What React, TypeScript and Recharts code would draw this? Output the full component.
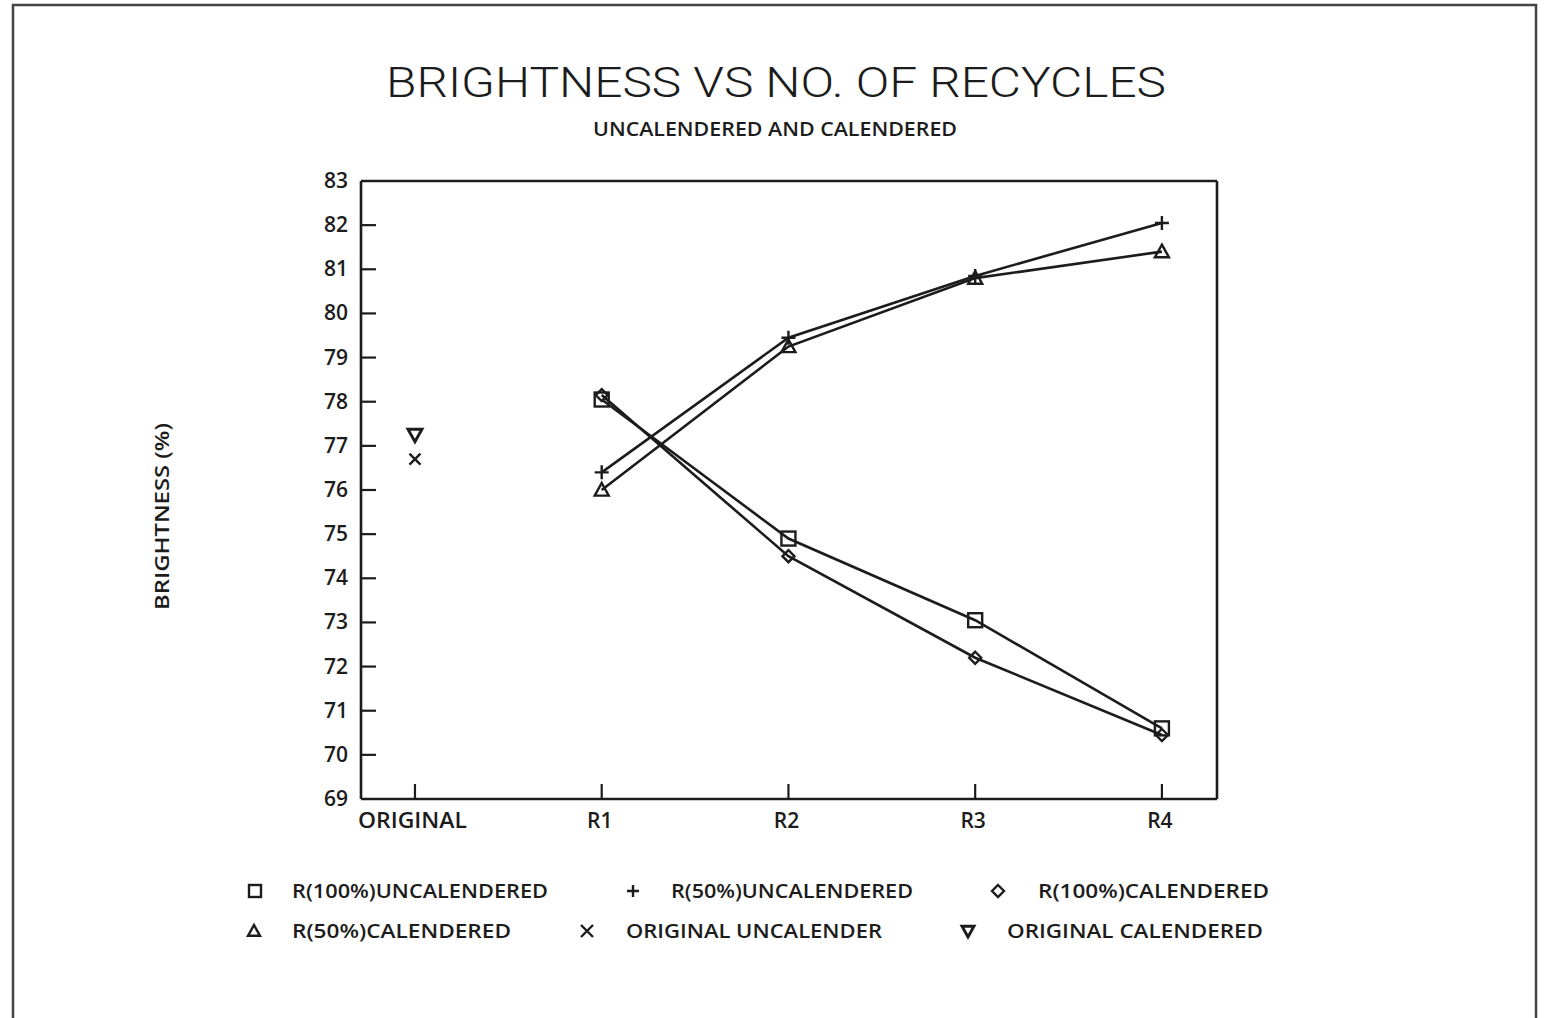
import React from "react";
import { ComposedChart, Line, XAxis, YAxis, ReferenceLine } from "recharts";

// category positions along the x axis (0 = ORIGINAL, 1..4 = recycles)
const categories = ["ORIGINAL", "R1", "R2", "R3", "R4"];
const r100Uncal = [null, 78.05, 74.9, 73.05, 70.6];
const r50Uncal = [null, 76.4, 79.45, 80.85, 82.05];
const r100Cal = [null, 78.15, 74.5, 72.2, 70.45];
const r50Cal = [null, 76.0, 79.25, 80.8, 81.4];
const origUncal = [76.7, null, null, null, null];
const origCal = [77.25, null, null, null, null];
const yTicks = [69, 70, 71, 72, 73, 74, 75, 76, 77, 78, 79, 80, 81, 82, 83];

const X_MIN = -0.289;
const X_MAX = 4.295;
const INK = "#1c1c1c";
const FONT = "'Open Sans', 'DejaVu Sans', sans-serif";

const data = categories.map((label, i) => ({
    x: i,
    label,
    r100Uncal: r100Uncal[i],
    r50Uncal: r50Uncal[i],
    r100Cal: r100Cal[i],
    r50Cal: r50Cal[i],
    origUncal: origUncal[i],
    origCal: origCal[i],
}));

type Kind = "square" | "plus" | "diamond" | "triangle" | "cross" | "down";

function Marker({ kind, cx, cy, s = 7 }: { kind: Kind; cx: number; cy: number; s?: number }) {
    const p = { fill: "none", stroke: INK, strokeWidth: 2.4 };
    switch (kind) {
        case "square":
            return <rect x={cx - s} y={cy - s} width={2 * s} height={2 * s} {...p} />;
        case "plus":
            return <path d={`M${cx - s},${cy}H${cx + s}M${cx},${cy - s}V${cy + s}`} {...p} />;
        case "diamond":
            return <path d={`M${cx},${cy - s}L${cx + s},${cy}L${cx},${cy + s}L${cx - s},${cy}Z`} {...p} />;
        case "triangle":
            return <path d={`M${cx},${cy - s}L${cx + s},${cy + s * 0.8}L${cx - s},${cy + s * 0.8}Z`} {...p} />;
        case "cross":
            return <path d={`M${cx - s},${cy - s}L${cx + s},${cy + s}M${cx + s},${cy - s}L${cx - s},${cy + s}`} {...p} />;
        case "down":
            return <path d={`M${cx - s},${cy - s * 0.8}L${cx + s},${cy - s * 0.8}L${cx},${cy + s}Z`} {...p} strokeWidth={2.9} />;
    }
}

const dotFor = (kind: Kind, s = 7) => (props: any) => {
    const { cx, cy, index } = props;
    if (cx == null || cy == null || isNaN(cy)) return <g key={`${kind}-${index}`} />;
    return (
        <g key={`${kind}-${index}`}>
            <Marker kind={kind} cx={cx} cy={cy} s={s} />
        </g>
    );
};

function XTick(props: any) {
    const { x, y, payload } = props;
    const label = categories[payload.value];
    return (
        <g>
            <line x1={x} y1={y} x2={x} y2={y - 15} stroke={INK} strokeWidth={2.2} />
            <text
                x={label === "ORIGINAL" ? x - 57 : x - 2}
                y={y + 29}
                textAnchor={label === "ORIGINAL" ? "start" : "middle"}
                textLength={label === "ORIGINAL" ? 109 : undefined}
                lengthAdjust="spacingAndGlyphs"
                fontFamily={FONT}
                fontWeight={600}
                fontSize={21}
                fill={INK}
            >
                {label}
            </text>
        </g>
    );
}

function YTick(props: any) {
    const { x, y, payload } = props;
    const v = payload.value;
    return (
        <g>
            {v !== 69 && v !== 83 && <line x1={x} y1={y} x2={x + 15} y2={y} stroke={INK} strokeWidth={2.2} />}
            <text x={x - 13} y={y + 7} textAnchor="end" fontFamily={FONT} fontWeight={600} fontSize={21} fill={INK}>
                {v}
            </text>
        </g>
    );
}

const legendRows: { kind: Kind; mx: number; tx: number; tw: number; y: number; text: string }[] = [
    { kind: "square", mx: 255, tx: 292, tw: 256, y: 891, text: "R(100%)UNCALENDERED" },
    { kind: "plus", mx: 633, tx: 671, tw: 242, y: 891, text: "R(50%)UNCALENDERED" },
    { kind: "diamond", mx: 998, tx: 1038, tw: 231, y: 891, text: "R(100%)CALENDERED" },
    { kind: "triangle", mx: 254, tx: 292, tw: 219, y: 931, text: "R(50%)CALENDERED" },
    { kind: "cross", mx: 587, tx: 626, tw: 256, y: 931, text: "ORIGINAL UNCALENDER" },
    { kind: "down", mx: 968, tx: 1007, tw: 256, y: 931, text: "ORIGINAL CALENDERED" },
];

export default function App() {
    return (
        <div style={{ position: "absolute", left: 0, top: 0, width: 1544, height: 1018, background: "#fff" }}>
            <ComposedChart
                width={1544}
                height={1018}
                data={data}
                margin={{ top: 181, right: 327, bottom: 218, left: 360 }}
            >
                <XAxis
                    dataKey="x"
                    type="number"
                    domain={[X_MIN, X_MAX]}
                    ticks={[0, 1, 2, 3, 4]}
                    height={1}
                    tickSize={0}
                    tickMargin={0}
                    tickLine={false}
                    tick={<XTick />}
                    axisLine={{ stroke: INK, strokeWidth: 2.6 }}
                    allowDataOverflow
                />
                <YAxis
                    type="number"
                    domain={[69, 83]}
                    ticks={yTicks}
                    width={1}
                    tickSize={0}
                    tickMargin={0}
                    tickLine={false}
                    tick={<YTick />}
                    axisLine={{ stroke: INK, strokeWidth: 2.6 }}
                    interval={0}
                    allowDataOverflow
                />
                <ReferenceLine y={83} stroke={INK} strokeWidth={2.6} />
                <ReferenceLine x={X_MAX} stroke={INK} strokeWidth={2.6} />
                <Line dataKey="r100Uncal" stroke={INK} strokeWidth={2.6} dot={dotFor("square", 7)} isAnimationActive={false} />
                <Line dataKey="r50Uncal" stroke={INK} strokeWidth={2.6} dot={dotFor("plus", 7)} isAnimationActive={false} />
                <Line dataKey="r100Cal" stroke={INK} strokeWidth={2.6} dot={dotFor("diamond", 6)} isAnimationActive={false} />
                <Line dataKey="r50Cal" stroke={INK} strokeWidth={2.6} dot={dotFor("triangle", 7)} isAnimationActive={false} />
                <Line dataKey="origUncal" stroke="none" dot={dotFor("cross", 5.5)} isAnimationActive={false} />
                <Line dataKey="origCal" stroke="none" dot={dotFor("down", 7)} isAnimationActive={false} />
            </ComposedChart>

            <svg width={1544} height={1018} style={{ position: "absolute", left: 0, top: 0, pointerEvents: "none" }}>
                <rect x={13} y={5} width={1523} height={1030} fill="none" stroke="#444" strokeWidth={2.5} />
                <text x={386} y={97} textLength={780} lengthAdjust="spacingAndGlyphs" fontFamily="Roboto, 'DejaVu Sans', sans-serif" fontWeight={300} fontSize={43} fill={INK}>
                    BRIGHTNESS VS NO. OF RECYCLES
                </text>
                <text x={593} y={136} textLength={364} lengthAdjust="spacingAndGlyphs" fontFamily={FONT} fontWeight={600} fontSize={20} fill={INK}>
                    UNCALENDERED AND CALENDERED
                </text>
                <text
                    transform="translate(169,610) rotate(-90)"
                    x={0}
                    y={0}
                    textLength={187}
                    lengthAdjust="spacingAndGlyphs"
                    fontFamily={FONT}
                    fontWeight={600}
                    fontSize={19}
                    fill={INK}
                >
                    BRIGHTNESS (%)
                </text>
                {legendRows.map((r) => (
                    <g key={r.text}>
                        <Marker kind={r.kind} cx={r.mx} cy={r.y} s={r.kind === "cross" ? 6 : 6} />
                        <text x={r.tx} y={r.y + 7} textLength={r.tw} lengthAdjust="spacingAndGlyphs" fontFamily={FONT} fontWeight={600} fontSize={19} fill={INK}>
                            {r.text}
                        </text>
                    </g>
                ))}
            </svg>
        </div>
    );
}
